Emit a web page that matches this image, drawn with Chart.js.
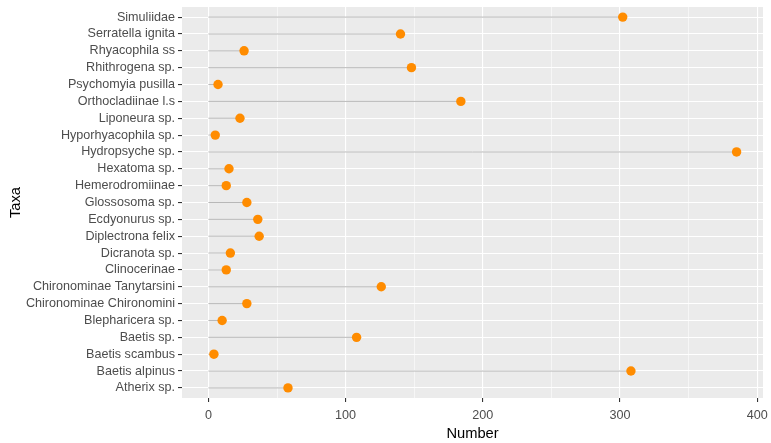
<!DOCTYPE html>
<html>
<head>
<meta charset="utf-8">
<script src="https://cdn.jsdelivr.net/npm/chart.js@4.4.1/dist/chart.umd.min.js"></script>
<style>
  body { margin: 0; background: #ffffff; }
</style>
</head>
<body>
<canvas id="lollipop" width="771" height="443"></canvas>
<script>
// taxa from top to bottom, as in the plot
const taxa = ['Simuliidae', 'Serratella ignita', 'Rhyacophila ss', 'Rhithrogena sp.', 'Psychomyia pusilla',
  'Orthocladiinae l.s', 'Liponeura sp.', 'Hyporhyacophila sp.', 'Hydropsyche sp.', 'Hexatoma sp.',
  'Hemerodromiinae', 'Glossosoma sp.', 'Ecdyonurus sp.', 'Diplectrona felix', 'Dicranota sp.',
  'Clinocerinae', 'Chironominae Tanytarsini', 'Chironominae Chironomini', 'Blepharicera sp.',
  'Baetis sp.', 'Baetis scambus', 'Baetis alpinus', 'Atherix sp.'];
const counts = [302, 140, 26, 148, 7, 184, 23, 5, 385, 15, 13, 28, 36, 37, 16, 13, 126, 28, 10, 108, 4, 308, 58];
const xTicks = [0, 100, 200, 300, 400];
const xMinor = [50, 150, 250, 350];

const maxCount = Math.max(...counts);

// points for the dots
const dots = counts.map((v, i) => ({ x: v, y: i }));
// stems from 0 to value, broken up with NaN
const stems = [];
counts.forEach((v, i) => {
  stems.push({ x: 0, y: i }, { x: v, y: i }, { x: NaN, y: NaN });
});

const panelBg = {
  id: 'panelBg',
  beforeDraw(chart) {
    const a = chart.chartArea;
    const ctx = chart.ctx;
    ctx.save();
    ctx.fillStyle = '#EBEBEB';
    ctx.fillRect(a.left, a.top, a.right - a.left, a.bottom - a.top);
    ctx.restore();
  }
};

// drop the extra room chart.js keeps for edge labels
function noEdgePadding(scale) {
  scale.paddingTop = 0;
  scale.paddingBottom = 0;
  scale.paddingLeft = 0;
  scale.paddingRight = 0;
}

const tickFont = { family: '"Liberation Sans", Arial, sans-serif', size: 12.6 };
const titleFont = { family: '"Liberation Sans", Arial, sans-serif', size: 14.7 };

new Chart(document.getElementById('lollipop'), {
  type: 'scatter',
  data: {
    datasets: [
      {
        label: 'Number',
        data: dots,
        order: 0,
        pointRadius: 4.7,
        pointHoverRadius: 4.7,
        pointBackgroundColor: '#FF8C00',
        pointBorderColor: '#FF8C00',
        pointBorderWidth: 0,
        showLine: false
      },
      {
        label: 'stems',
        data: stems,
        order: 1,
        showLine: true,
        spanGaps: false,
        pointRadius: 0,
        borderColor: '#B8B8B8',
        borderWidth: 1
      }
    ]
  },
  options: {
    responsive: false,
    animation: false,
    devicePixelRatio: 1,
    layout: { padding: { top: 7, right: 8, left: 0, bottom: 0 } },
    plugins: {
      legend: { display: false },
      tooltip: { enabled: false }
    },
    scales: {
      x: {
        type: 'linear',
        min: -0.05 * maxCount,
        max: 1.05 * maxCount,
        afterBuildTicks: (scale) => {
          scale.ticks = [...xTicks, ...xMinor].sort((a, b) => a - b).map(v => ({ value: v }));
        },
        afterFit: (scale) => { scale.height = 45; noEdgePadding(scale); },
        border: { display: false },
        grid: {
          color: '#FFFFFF',
          lineWidth: (c) => (c.tick && c.tick.value % 100 === 0 ? 1.1 : 0.55),
          tickColor: (c) => (c.tick && c.tick.value % 100 === 0 ? '#333333' : 'rgba(0,0,0,0)'),
          tickLength: 4,
          drawTicks: true
        },
        ticks: {
          color: '#4D4D4D',
          font: tickFont,
          padding: 6,
          maxRotation: 0,
          autoSkip: false,
          callback: (v) => (v % 100 === 0 ? String(v) : '')
        },
        title: {
          display: true,
          text: 'Number',
          color: '#000000',
          font: titleFont,
          padding: { top: 2, bottom: 0 }
        }
      },
      y: {
        type: 'linear',
        reverse: true,
        min: -0.6,
        max: taxa.length - 1 + 0.6,
        afterBuildTicks: (scale) => {
          scale.ticks = taxa.map((t, i) => ({ value: i }));
        },
        afterFit: (scale) => { scale.width = 182; noEdgePadding(scale); },
        border: { display: false },
        grid: {
          color: '#FFFFFF',
          lineWidth: 1.1,
          tickColor: '#333333',
          tickLength: 4,
          drawTicks: true
        },
        ticks: {
          color: '#4D4D4D',
          font: tickFont,
          padding: 3,
          autoSkip: false,
          callback: (v) => taxa[v]
        },
        title: {
          display: true,
          text: 'Taxa',
          color: '#000000',
          font: titleFont,
          padding: { top: 7, bottom: 4 }
        }
      }
    }
  },
  plugins: [panelBg]
});
</script>
</body>
</html>
